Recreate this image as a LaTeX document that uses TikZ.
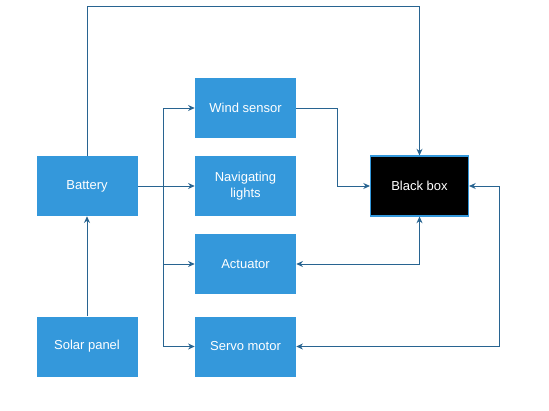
\documentclass[tikz,border=0pt]{standalone}
\usepackage{fontspec}
\setmainfont{Liberation Sans}
\usepackage{xcolor}
\usetikzlibrary{arrows.meta}
\definecolor{BoxBlue}{RGB}{52,152,219}
\definecolor{WireBlue}{RGB}{40,100,145}
\tikzset{
  unit/.style={fill=BoxBlue,text=white,minimum width=101*0.75pt,minimum height=60*0.75pt,
    inner sep=0pt,align=center,font=\fontsize{9.75}{12}\selectfont},
  wire/.style={draw=WireBlue,line width=0.75pt,>={Stealth[length=5pt,width=4.5pt]}}
}
\begin{document}
\begin{tikzpicture}[x=0.75pt,y=-0.75pt]
  \useasboundingbox (0,0) rectangle (549,410);
  % power side
  \node[unit] (battery) at (87,186) {Battery};
  \node[unit] (solar) at (87,346.5) {Solar panel};
  % loads
  \node[unit] (wind) at (245.5,108) {Wind sensor};
  \node[unit] (navlights) at (245.5,186) {Navigating\\lights};
  \node[unit] (actuator) at (245.5,264) {Actuator};
  \node[unit] (servo) at (245.5,346.5) {Servo motor};
  % recorder
  \node[unit,fill=black,draw=BoxBlue,line width=0.8pt,minimum width=98*0.75pt] (blackbox) at (419.5,186) {Black box};
  \coordinate (split) at (163,186);
  % connectors
  \draw[wire,->] (solar) -- (battery);
  \draw[wire,->] (battery.north) |- (87,7) -| (blackbox.north);
  \draw[wire,->] (battery) -- (navlights);
  \draw[wire,->] (split) |- (wind.west);
  \draw[wire,->] (split) |- (actuator.west);
  \draw[wire,->] (split) |- (servo.west);
  \draw[wire,->] (wind.east) -| (337,186) -- (blackbox.west);
  \draw[wire,<->] (actuator.east) -| (blackbox.south);
  \draw[wire,<->] (servo.east) -| (499,186) -- (blackbox.east);
\end{tikzpicture}
\end{document}
